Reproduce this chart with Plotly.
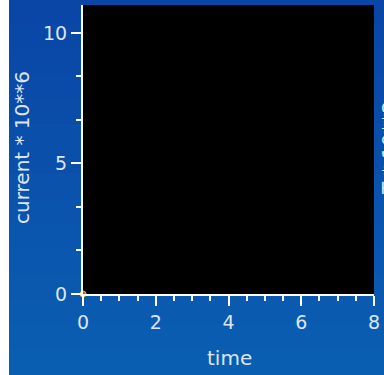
import plotly.graph_objects as go

# data
time = [0.0]
current = [0.0]
x_ticks = [0, 2, 4, 6, 8]
y_ticks = [0, 5, 10]
y_title = "current * 10**6"
x_title = "time"
right_title = "T * 10**2"

W, H = 384, 375
L, R, T, B = 83, 10, 5, 81
pw, ph = W - L - R, H - T - B


def px_x(p):
    return (p - L) / pw


def px_y(p):
    return (H - B - p) / ph


txt = "#dce6f4"
font = dict(family="DejaVu Sans", size=19, color=txt)
tfont = dict(family="DejaVu Sans", size=20, color=txt)

fig = go.Figure()
fig.add_trace(go.Scatter(
    x=time, y=current, mode="markers",
    marker=dict(size=6, color="#e04818", line=dict(color="#f0c020", width=1)),
    cliponaxis=False, showlegend=False, hoverinfo="skip",
))

shapes = []
n = 15
top = (10, 70, 166)
bot = (10, 94, 178)
for i in range(n):
    f = i / (n - 1)
    c = tuple(round(top[k] + (bot[k] - top[k]) * f) for k in range(3))
    y0p = H * i / n
    y1p = H * (i + 1) / n
    shapes.append(dict(type="rect", xref="paper", yref="paper",
                       x0=px_x(9), x1=px_x(W + 5), y0=px_y(y1p + 1), y1=px_y(y0p - 1),
                       fillcolor="rgb(%d,%d,%d)" % c, line=dict(width=0), layer="below"))
shapes.append(dict(type="rect", xref="paper", yref="paper",
                   x0=px_x(-5), x1=px_x(9), y0=px_y(H + 5), y1=px_y(-5),
                   fillcolor="white", line=dict(width=0), layer="below"))
shapes.append(dict(type="rect", xref="paper", yref="paper",
                   x0=0, x1=1, y0=0, y1=1,
                   fillcolor="black", line=dict(width=0), layer="below"))

fig.update_layout(
    width=W, height=H,
    margin=dict(l=L, r=R, t=T, b=B),
    paper_bgcolor="rgb(10,82,172)",
    plot_bgcolor="black",
    shapes=shapes,
    font=font,
    xaxis=dict(range=[0, 8], tickvals=x_ticks, ticks="outside", ticklen=10,
               tickwidth=1.5, tickcolor="white", showline=True, linecolor="white",
               linewidth=2, showgrid=False, zeroline=False, tickfont=font,
               minor=dict(dtick=0.5, ticks="outside", ticklen=5, tickcolor="white",
                          tickwidth=1.5, showgrid=False)),
    yaxis=dict(range=[0, 11.07], tickvals=y_ticks, ticks="outside", ticklen=10,
               tickwidth=1.5, tickcolor="white", showline=True, linecolor="white",
               linewidth=2, showgrid=False, zeroline=False, tickfont=font,
               minor=dict(dtick=5 / 3, ticks="outside", ticklen=5, tickcolor="white",
                          tickwidth=1.5, showgrid=False)),
    annotations=[
        dict(text=x_title, xref="paper", yref="paper", x=px_x(229), y=px_y(358),
             xanchor="center", yanchor="middle", showarrow=False, font=tfont),
        dict(text=y_title, xref="paper", yref="paper", x=px_x(22), y=px_y(148),
             xanchor="center", yanchor="middle", textangle=-90, showarrow=False, font=tfont),
        dict(text=right_title, xref="paper", yref="paper", x=px_x(389), y=px_y(148),
             xanchor="center", yanchor="middle", textangle=-90, showarrow=False, font=tfont),
    ],
)

fig.write_html("out.html", config={"displayModeBar": False},
               post_script="document.body.style.margin='0';document.body.style.overflow='hidden';")
